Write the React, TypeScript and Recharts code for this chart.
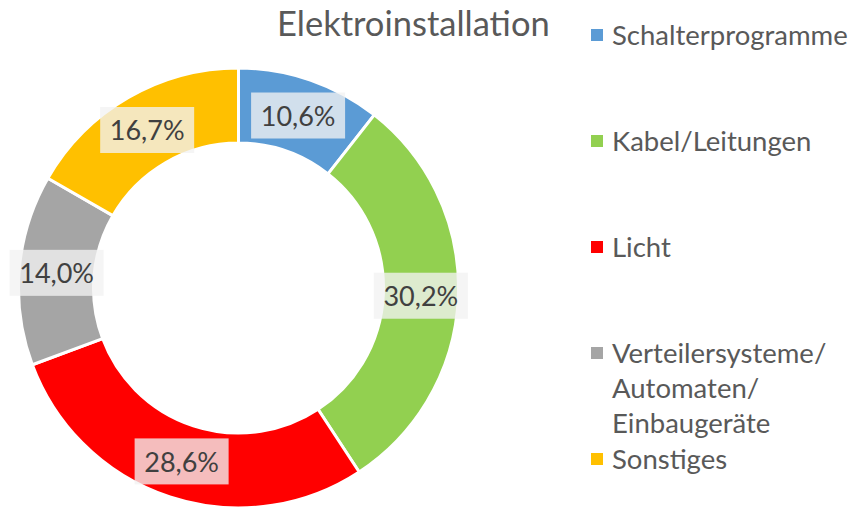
import { Cell, Legend, Pie, PieChart } from 'recharts';

const categories = [
  'Schalterprogramme',
  'Kabel/Leitungen',
  'Licht',
  'Verteilersysteme/\nAutomaten/\nEinbaugeräte',
  'Sonstiges',
];
const shares = [10.6, 30.2, 28.6, 14.0, 16.7];
const colours = ['#5B9BD5', '#92D050', '#FF0000', '#A5A5A5', '#FFC000'];

const FONT = 'Lato, "Open Sans", sans-serif';
const RAD = Math.PI / 180;

const data = categories.map((name, i) => ({ name, value: shares[i] }));

function formatShare(v: number) {
  return `${v.toFixed(1).replace('.', ',')}%`;
}

function SliceLabel(props: any) {
  const { cx, cy, midAngle, innerRadius, outerRadius, value } = props;
  const r = (innerRadius + outerRadius) / 2;
  const x = cx + r * Math.cos(-midAngle * RAD);
  const y = cy + r * Math.sin(-midAngle * RAD);
  const w = 94;
  const h = 46;
  return (
    <g>
      <rect x={x - w / 2} y={y - h / 2} width={w} height={h} fill="#F2F2F2" fillOpacity={0.78} />
      <text
        x={x}
        y={y}
        textAnchor="middle"
        dominantBaseline="central"
        fill="#404040"
        fontFamily={FONT}
        fontSize={27}
      >
        {formatShare(value)}
      </text>
    </g>
  );
}

function LegendList({ payload }: any) {
  // keep the slice order instead of the legend's default sort
  const items = [...(payload ?? [])].sort(
    (a: any, b: any) => categories.indexOf(a.value) - categories.indexOf(b.value),
  );
  return (
    <div style={{ position: 'relative', width: 250, fontFamily: FONT, fontSize: 27.5, color: '#595959' }}>
      {items.map((entry: any, i: number) => (
        <div
          key={entry.value}
          style={{ position: 'absolute', left: 0, top: i * 106, whiteSpace: 'pre-line', lineHeight: '35px' }}
        >
          <span
            style={{
              position: 'absolute',
              left: 0,
              top: 12,
              width: 12,
              height: 12,
              background: entry.color,
            }}
          />
          <div style={{ marginLeft: 21 }}>{entry.value}</div>
        </div>
      ))}
    </div>
  );
}

export default function App() {
  return (
    <div style={{ position: 'fixed', left: 0, top: 0, width: 852, height: 507, background: '#fff' }}>
      <div
        style={{
          position: 'absolute',
          left: 277,
          top: 3,
          fontFamily: FONT,
          fontSize: 34.5,
          color: '#595959',
          lineHeight: '40px',
        }}
      >
        Elektroinstallation
      </div>
      <PieChart width={852} height={507} margin={{ top: 0, right: 0, bottom: 0, left: 0 }}>
        <Pie
          data={data}
          dataKey="value"
          nameKey="name"
          cx={238.5}
          cy={288}
          innerRadius={145}
          outerRadius={220}
          startAngle={90}
          endAngle={-270}
          stroke="#FFFFFF"
          strokeWidth={3}
          label={SliceLabel}
          labelLine={false}
          isAnimationActive={false}
        >
          {data.map((d, i) => (
            <Cell key={d.name} fill={colours[i]} />
          ))}
        </Pie>
        <Legend
          layout="vertical"
          content={LegendList}
          wrapperStyle={{ position: 'absolute', left: 591, top: 17, width: 260 }}
        />
      </PieChart>
    </div>
  );
}
